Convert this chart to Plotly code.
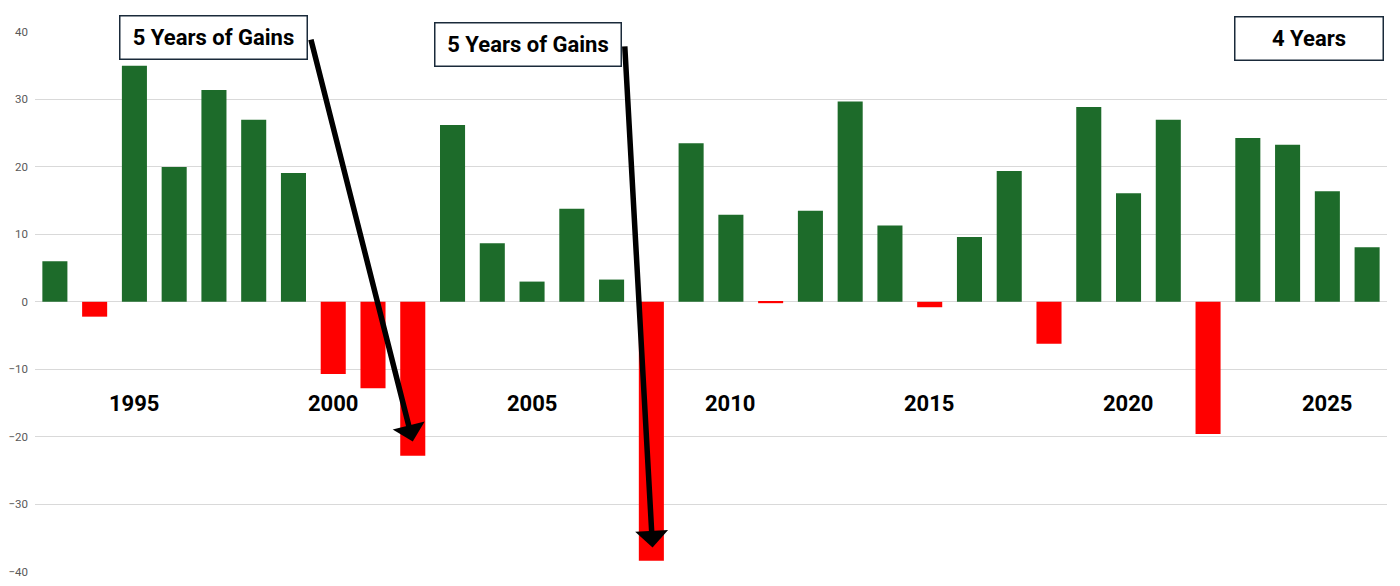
import plotly.graph_objects as go

# Annual returns (%)
years = list(range(1993, 2027))
returns = [6.0, -2.2, 35.0, 20.0, 31.4, 27.0, 19.1, -10.7, -12.8, -22.8,
           26.2, 8.7, 3.0, 13.8, 3.3, -38.4, 23.5, 12.9, -0.2, 13.5,
           29.7, 11.3, -0.8, 9.6, 19.4, -6.2, 28.9, 16.1, 27.0, -19.6,
           24.3, 23.3, 16.4, 8.1]
label_years = [1995, 2000, 2005, 2010, 2015, 2020, 2025]

GREEN = '#1d6b2a'
RED = '#ff0000'
colors = [GREEN if r >= 0 else RED for r in returns]

fig = go.Figure()

fig.add_trace(go.Bar(
    x=years,
    y=returns,
    marker=dict(color=colors, line=dict(width=0)),
    hoverinfo='x+y'
))

# year labels inside the plot
for yr in label_years:
    fig.add_annotation(
        x=yr, y=-15, text='<b>%d</b>' % yr, showarrow=False,
        font=dict(family='Roboto, Arial', size=22, color='black')
    )

# text boxes
boxes = [
    ('5 Years of Gains', 1997.0, 39.2, 186),
    ('5 Years of Gains', 2004.9, 38.1, 185),
    ('4 Years', 2024.53, 39.0, 147),
]
for txt, bx, by, bw in boxes:
    fig.add_annotation(
        x=bx, y=by, text='<b>%s</b>' % txt, showarrow=False,
        width=bw, height=42, align='center', valign='middle',
        bgcolor='white', bordercolor='#1a2a3a', borderwidth=1.5, borderpad=0,
        font=dict(family='Roboto, Arial', size=22, color='black')
    )

# arrows from the boxes down to the losses
arrows = [
    (2002.0, -20.7, 1999.43, 39.1),
    (2008.03, -36.4, 2007.33, 38.1),
]
for tx, ty, sx, sy in arrows:
    fig.add_annotation(
        x=tx, y=ty, ax=sx, ay=sy, axref='x', ayref='y',
        text='', showarrow=True, arrowhead=1, arrowsize=1.0,
        arrowwidth=5.5, arrowcolor='black'
    )

# the page body has an 8px margin, so the figure is sized to fit inside it
fig.update_layout(
    width=1384,
    height=570,
    margin=dict(l=27, r=5, t=24, b=6, autoexpand=False),
    plot_bgcolor='white',
    paper_bgcolor='white',
    bargap=0.37,
    showlegend=False,
    font=dict(family='Roboto, Arial', color='#595959'),
    xaxis=dict(range=[1992.5, 2026.5], showticklabels=False, showgrid=False,
               zeroline=False, showline=False, automargin=False),
    yaxis=dict(range=[-40.05, 40], tickvals=[-40, -30, -20, -10, 0, 10, 20, 30, 40],
               gridcolor='#d9d9d9', gridwidth=1, automargin=False,
               ticklabeloverflow='allow',
               zeroline=False, showline=False, ticklabelstandoff=6,
               tickfont=dict(family='Roboto, Arial', size=11.5, color='#595959'))
)

fig.write_html("out.html")
